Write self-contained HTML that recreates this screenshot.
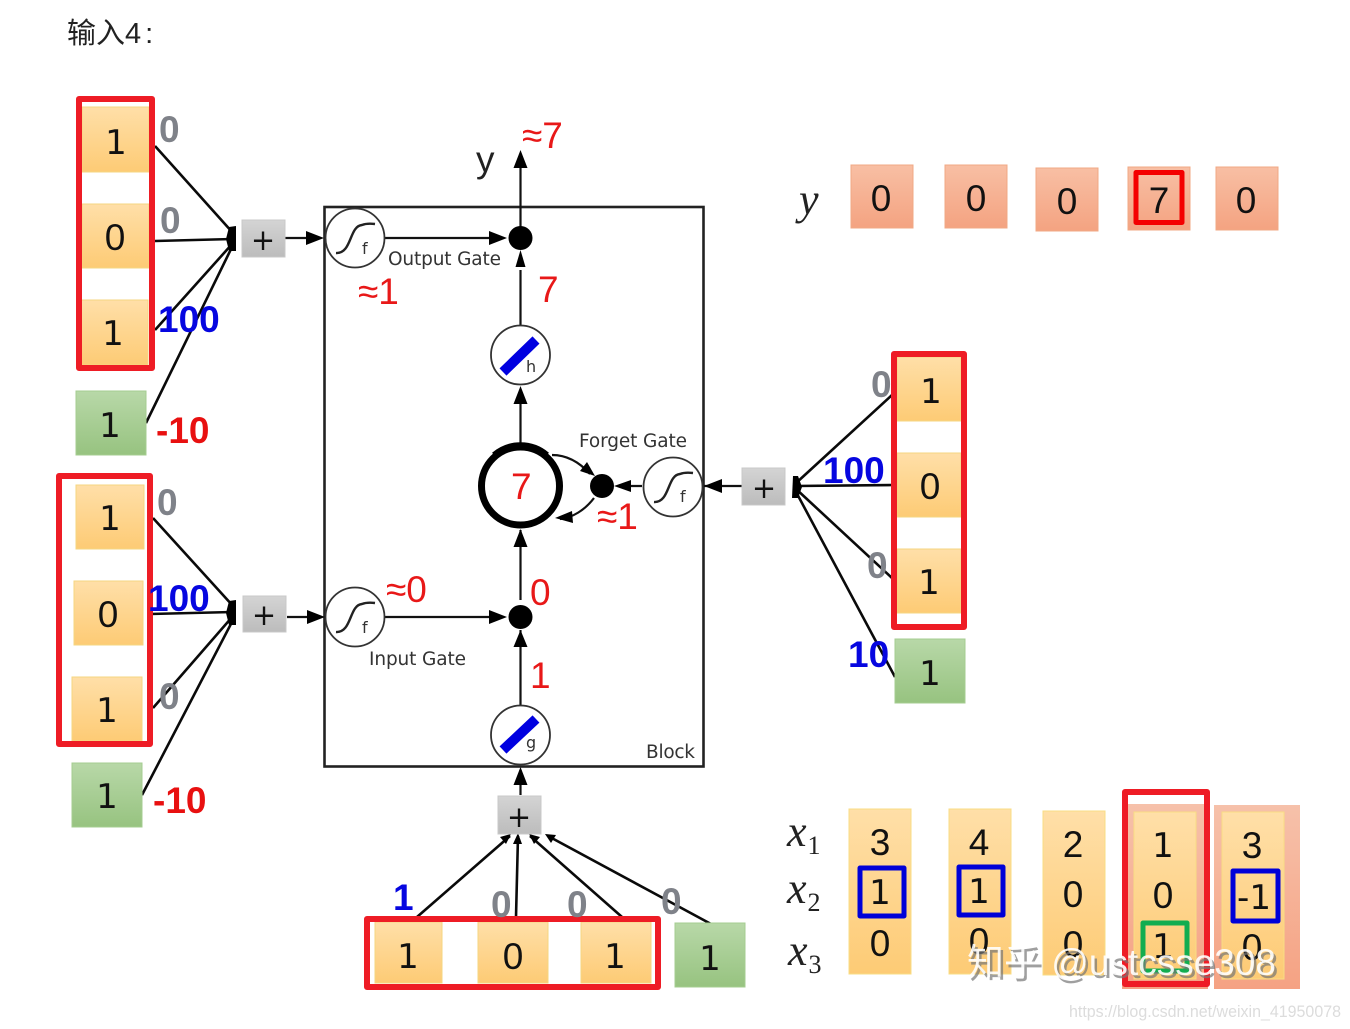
<!DOCTYPE html>
<html><head><meta charset="utf-8"><style>html,body{margin:0;padding:0;background:#fff}svg{display:block}text{font-family:"Liberation Sans","Noto Sans CJK SC",sans-serif}.d1 text,.dj{font-family:"DejaVu Sans",sans-serif}.m,.m text{font-family:"Liberation Serif",serif}</style></head><body>
<svg width="1350" height="1029" viewBox="0 0 1350 1029" xmlns="http://www.w3.org/2000/svg">
<defs>
<linearGradient id="o" x1="0" y1="0" x2="0" y2="1"><stop offset="0" stop-color="#ffdfa8"/><stop offset="1" stop-color="#fdcb75"/></linearGradient>
<linearGradient id="g" x1="0" y1="0" x2="0" y2="1"><stop offset="0" stop-color="#b8d8a8"/><stop offset="1" stop-color="#97c380"/></linearGradient>
<linearGradient id="p" x1="0" y1="0" x2="0" y2="1"><stop offset="0" stop-color="#d4d4d4"/><stop offset="1" stop-color="#bcbcbc"/></linearGradient>
<linearGradient id="s" x1="0" y1="0" x2="0" y2="1"><stop offset="0" stop-color="#f6c1aa"/><stop offset="1" stop-color="#f5a283"/></linearGradient>
<linearGradient id="r" x1="0" y1="0" x2="0" y2="1"><stop offset="0" stop-color="#f8bfa4"/><stop offset="1" stop-color="#f4a381"/></linearGradient>
</defs>

<text x="67" y="43" font-size="29" fill="#222">输入4<tspan dx="4">:</tspan></text>

<!-- connectors -->
<g stroke="#0a0a0a" stroke-width="2.600" fill="none">
<path d="M155 146L233 233M155 241L233 239M155 330L233 243M146 423L233 245"/>
<path d="M153 518L233 606M150 614L233 612M153 708L233 616M142 795L233 620"/>
<path d="M892 395L795 484M892 485L795 486M892 578L795 488M895 677L795 490"/>
<path d="M417 917L510 836M516 917L518 836M622 917L530 836M711 924L548 836"/>
</g>
<g fill="#000"><path d="M226 239L229 227L236 226L236 251L229 251z"/><path d="M226 613L229 601L236 600L236 625L229 625z"/><path d="M802 487L798 476L793 476L792 498L798 498z"/></g>
<g fill="#000">
<path d="M511 834l-11 3 6 7z"/><path d="M518 833l-5 11 9 0z"/><path d="M529 834l5 10 6-7z"/><path d="M545 834l6 9 5-8z"/>
</g>

<!-- Block -->
<rect x="324.500" y="207" width="379" height="559.500" fill="none" stroke="#222" stroke-width="2.600"/>
<g stroke="#111" stroke-width="2.200" fill="none">
<path d="M520.500 236V165M520.500 270V345M520.500 390V445M520.500 530V600M520.500 705V630M520.500 795V770"/>
<path d="M385 238H495M385 617H495M285 238H308M287 617H308M704 486H720M743 486H722"/>
<path d="M552 455C570 455 582 465 590 474M594 498C585 510 572 518 560 519"/>
<path d="M642 486H625"/>
</g>
<g fill="#000">
<path d="M520.500 150l-7 18h14z"/><path d="M520.500 250l-5 17h10z"/><path d="M520.500 386l-7 18h14z"/><path d="M520.500 529l-7 18h14z"/><path d="M520.500 630l-7 17h14z"/><path d="M520.500 767l-7 18h14z"/>
<path d="M507 238l-18-7v14z"/><path d="M507 617l-18-7v14z"/><path d="M324 238l-18-7v14z"/><path d="M325 617l-18-7v14z"/>
<path d="M704 486l18-7v14z"/><path d="M614 486l17-6v12z"/>
<path d="M595 476l-15-5 7-9z"/><path d="M555 518l17-7 1 12z"/>
<circle cx="520.500" cy="238" r="12"/><circle cx="520.500" cy="617" r="12"/><circle cx="602" cy="486" r="12"/>
</g>
<circle cx="520.500" cy="486" r="39" fill="#fff" stroke="#000" stroke-width="7"/>
<path d="M494 455A41 41 0 0 1 547 455" fill="none" stroke="#000" stroke-width="6"/>
<g fill="#fff" stroke="#333" stroke-width="1.800">
<circle cx="355" cy="238" r="29.500"/><circle cx="355" cy="617" r="29.500"/><circle cx="673" cy="487" r="29.500"/>
<circle cx="520.500" cy="355" r="29.500"/><circle cx="520.500" cy="735" r="29.500"/>
</g>
<g fill="none" stroke="#222" stroke-width="2.400">
<path d="M336 253C352 254 349 226 362 225Q367 223 375 224"/>
<path d="M336 632C352 633 349 605 362 604Q367 602 375 603"/>
<path d="M654 502C670 503 667 475 680 474Q685 472 693 473"/>
</g>
<path d="M503 372L536 340" stroke="#0000e0" stroke-width="10" fill="none"/>
<path d="M503 750L536 719" stroke="#0000e0" stroke-width="10" fill="none"/>
<g fill="#333" font-size="18.500">
<text class="dj" x="362" y="254" font-size="16">f</text><text class="dj" x="362" y="633" font-size="16">f</text><text class="dj" x="680" y="502" font-size="16">f</text>
<text class="dj" x="526" y="372" font-size="16">h</text><text class="dj" x="526" y="748" font-size="16">g</text>
<text class="dj" x="388" y="265" textLength="113">Output Gate</text><text class="dj" x="579" y="447" textLength="108">Forget Gate</text><text class="dj" x="369" y="665" textLength="97">Input Gate</text><text class="dj" x="646" y="758" textLength="49">Block</text>
</g>

<!-- plus boxes -->
<g fill="url(#p)" stroke="#c8c8c8"><rect x="242" y="220" width="43" height="37"/><rect x="243" y="596" width="43" height="36"/><rect x="742" y="468" width="43" height="37"/><rect x="498" y="796" width="43" height="38"/></g>
<g class="d1" font-size="29" fill="#111" text-anchor="middle"><text x="263" y="250">+</text><text x="264" y="625">+</text><text x="764" y="498">+</text><text x="519" y="827">+</text></g>

<!-- orange cells -->
<g fill="url(#o)" stroke="#f5d680" stroke-width="1">
<rect x="82" y="107" width="67" height="65"/><rect x="82" y="204" width="67" height="64"/><rect x="81" y="300" width="67" height="65"/>
<rect x="76" y="485" width="68" height="64"/><rect x="74" y="581" width="69" height="64"/><rect x="72" y="677" width="70" height="64"/>
<rect x="897" y="357" width="64" height="64"/><rect x="897" y="453" width="64" height="64"/><rect x="897" y="549" width="64" height="64"/>
<rect x="375" y="922" width="67" height="61"/><rect x="478" y="922" width="70" height="61"/><rect x="581" y="922" width="70" height="61"/>
</g>
<g fill="url(#g)" stroke="#a5cc90" stroke-width="1">
<rect x="76" y="391" width="70" height="64"/><rect x="72" y="763" width="70" height="64"/><rect x="895" y="639" width="70" height="64"/><rect x="675" y="923" width="70" height="64"/>
</g>
<g fill="url(#r)" stroke="#f0a884" stroke-width="1">
<rect x="851" y="165" width="62" height="63"/><rect x="945" y="165" width="62" height="63"/><rect x="1036" y="168" width="62" height="63"/><rect x="1128" y="167" width="62" height="63"/><rect x="1216" y="167" width="62" height="63"/>
</g>

<!-- matrix -->
<rect x="1122" y="804" width="86" height="185" fill="url(#s)"/>
<rect x="1214" y="805" width="86" height="184" fill="url(#s)"/>
<g fill="url(#o)" stroke="#f8dd84" stroke-width="1">
<rect x="849" y="809" width="62" height="165"/><rect x="949" y="809" width="62" height="165"/><rect x="1043" y="811" width="62" height="164"/><rect x="1134" y="812" width="62" height="167"/><rect x="1222" y="812" width="62" height="167"/>
</g>

<!-- digits -->
<g font-size="37" fill="#111" text-anchor="middle">
<text x="115" y="250">0</text><text x="108" y="627">0</text><text x="930" y="499">0</text><text x="513" y="969">0</text>
<text x="881" y="211">0</text><text x="976" y="211">0</text><text x="1067" y="214">0</text><text x="1159" y="213">7</text><text x="1246" y="213">0</text>
<text x="880" y="855">3</text><text x="880" y="956">0</text>
<text x="979" y="855">4</text><text x="979" y="954">0</text>
<text x="1073" y="857">2</text><text x="1073" y="907">0</text><text x="1073" y="957">0</text>
<text x="1163" y="908">0</text>
<text x="1252" y="858">3</text><text x="1252" y="960">0</text>
</g>
<g class="d1" font-size="34" fill="#111" text-anchor="middle">
<text x="116" y="154">1</text><text x="113" y="345">1</text><text x="110" y="437">1</text>
<text x="110" y="530">1</text><text x="107" y="722">1</text><text x="107" y="808">1</text>
<text x="931" y="403">1</text><text x="929" y="594">1</text><text x="930" y="685">1</text>
<text x="408" y="968">1</text><text x="615" y="968">1</text><text x="710" y="970">1</text>
<text x="880" y="904">1</text><text x="979" y="903">1</text><text x="1163" y="857">1</text><text x="1163" y="958">1</text>
<text x="1254" y="909">-1</text>
</g>

<!-- outlines -->
<g fill="none" stroke-linejoin="round">
<g stroke="#ee1c25" stroke-width="6">
<rect x="79" y="99" width="73" height="269"/><rect x="59" y="476" width="91" height="268"/><rect x="894" y="354" width="70" height="273"/><rect x="367" y="919" width="291" height="68"/>
<rect x="1125" y="792" width="82" height="192"/>
<rect x="1136" y="172.500" width="46" height="50" stroke-width="5" stroke="#f40000"/>
</g>
<g stroke="#0000d8" stroke-width="5"><rect x="860" y="868" width="44" height="48"/><rect x="959" y="867" width="44" height="48"/><rect x="1233" y="871" width="45" height="50"/></g>
<rect x="1143" y="923" width="44" height="48" stroke="#12ad50" stroke-width="5"/>
</g>

<!-- weights -->
<g font-size="37" font-weight="bold">
<g fill="#7f8289"><text x="159" y="142">0</text><text x="160" y="233">0</text><text x="157" y="515">0</text><text x="159" y="709">0</text><text x="871" y="397">0</text><text x="867" y="578">0</text><text x="491" y="917">0</text><text x="567" y="917">0</text><text x="661" y="914">0</text></g>
<g fill="#0606e0"><text x="158" y="332">100</text><text x="148" y="611">100</text><text x="823" y="483">100</text><text x="848" y="667">10</text><text x="393" y="910">1</text></g>
<g fill="#e81010"><text x="156" y="443">-10</text><text x="153" y="813">-10</text></g>
</g>
<g font-size="37" fill="#e81818">
<text x="522" y="148">≈7</text><text x="538" y="302">7</text><text x="358" y="304">≈1</text><text x="511" y="499">7</text><text x="597" y="529">≈1</text><text x="386" y="602">≈0</text><text x="530" y="605">0</text><text x="530" y="688">1</text>
</g>

<text x="476" y="172" font-size="37" fill="#222">y</text>
<g class="m" fill="#222" font-style="italic">
<text x="799" y="214" font-size="44">y</text>
<text x="787" y="846" font-size="44">x<tspan font-size="26" dy="8" dx="1" font-style="normal">1</tspan></text>
<text x="787" y="903" font-size="44">x<tspan font-size="26" dy="8" dx="1" font-style="normal">2</tspan></text>
<text x="788" y="965" font-size="44">x<tspan font-size="26" dy="8" dx="1" font-style="normal">3</tspan></text>
</g>

<!-- watermarks -->
<text x="968" y="976" font-size="37" fill="#777" opacity=".7" transform="translate(1.500 2)">知乎 @ustcsse308</text>
<text x="967" y="975" font-size="37" fill="#fff" opacity=".9">知乎 @ustcsse308</text>
<text x="1069" y="1017" font-size="17" fill="#dcdcdc" textLength="272" lengthAdjust="spacingAndGlyphs">https://blog.csdn.net/weixin_41950078</text>
</svg>
</body></html>
